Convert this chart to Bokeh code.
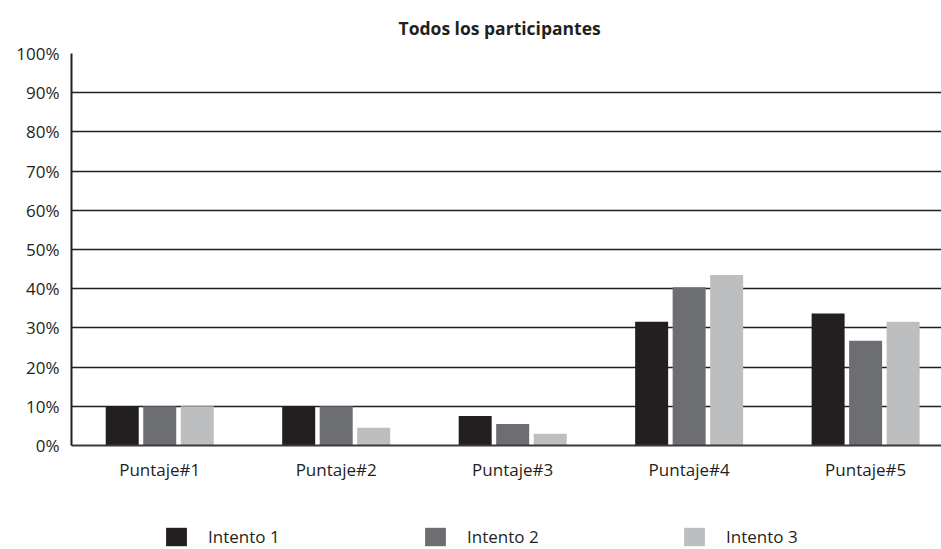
from bokeh.plotting import figure
from bokeh.layouts import column
from bokeh.models import Range1d, FixedTicker, Legend, LegendItem, ColumnDataSource, NumeralTickFormatter
from bokeh.transform import dodge
from bokeh.embed import file_html
from bokeh.resources import INLINE

categories = ["Puntaje#1", "Puntaje#2", "Puntaje#3", "Puntaje#4", "Puntaje#5"]
intento1 = [0.10, 0.10, 0.075, 0.316, 0.337]
intento2 = [0.10, 0.10, 0.055, 0.404, 0.267]
intento3 = [0.10, 0.045, 0.030, 0.435, 0.316]
series_names = ["Intento 1", "Intento 2", "Intento 3"]
colors = ["#231f20", "#6d6e71", "#bcbec0"]
y_ticks = [0, 0.1, 0.2, 0.3, 0.4, 0.5, 0.6, 0.7, 0.8, 0.9, 1.0]

FONT = "Open Sans"
DARK = "#231f20"

xs = list(range(len(categories)))
source = ColumnDataSource(dict(x=xs, i1=intento1, i2=intento2, i3=intento3))
offsets = [-0.2125, 0.0, 0.2125]
fields = ["i1", "i2", "i3"]

p = figure(width=941, height=500, x_range=Range1d(-0.5, 4.43), y_range=Range1d(0, 1),
           output_backend="svg", toolbar_location=None,
           min_border_left=71, min_border_right=0, min_border_top=53, min_border_bottom=55,
           title="Todos los participantes")
p.outline_line_color = None
p.background_fill_color = "white"
p.border_fill_color = "white"

p.title.align = "left"
p.title.offset = 327
p.title.text_font = FONT
p.title.text_font_size = "17.5px"
p.title.text_font_style = "bold"
p.title.text_color = DARK
p.title.standoff = 27

for off, fld, col in zip(offsets, fields, colors):
    p.vbar(x=dodge("x", off, range=p.x_range), top=fld, width=0.187, bottom=0,
           source=source, fill_color=col, line_color=None)

# axes
p.yaxis.ticker = FixedTicker(ticks=y_ticks)
p.yaxis.formatter = NumeralTickFormatter(format="0%")
p.yaxis.major_tick_line_color = None
p.yaxis.minor_tick_line_color = None
p.yaxis.major_tick_out = 0
p.yaxis.major_label_standoff = 12
p.yaxis.axis_line_color = DARK
p.yaxis.axis_line_width = 2
p.yaxis.major_label_text_font = FONT
p.yaxis.major_label_text_font_size = "17px"
p.yaxis.major_label_text_color = DARK

p.xaxis.ticker = FixedTicker(ticks=xs)
p.xaxis.major_label_overrides = {i: c for i, c in zip(xs, categories)}
p.xaxis.major_tick_line_color = None
p.xaxis.minor_tick_line_color = None
p.xaxis.major_tick_out = 0
p.xaxis.major_label_standoff = 12
p.xaxis.axis_line_color = "#3a3a3a"
p.xaxis.axis_line_width = 2
p.xaxis.major_label_text_font = FONT
p.xaxis.major_label_text_font_size = "17px"
p.xaxis.major_label_text_color = DARK

p.xgrid.grid_line_color = None
p.ygrid.grid_line_color = DARK
p.ygrid.grid_line_width = 1.5

# legend strip (hidden copies of the series provide the legend swatches)
pl = figure(width=941, height=48, x_range=Range1d(0, 1), y_range=Range1d(0, 1),
            output_backend="svg", toolbar_location=None,
            min_border_left=0, min_border_right=0, min_border_top=0, min_border_bottom=0,
            x_axis_type=None, y_axis_type=None)
pl.outline_line_color = None
pl.xgrid.visible = False
pl.ygrid.visible = False
leg_renderers = [pl.vbar(x=dodge("x", off), top=fld, width=0.1, source=source,
                         fill_color=c, line_color=None, visible=False)
                 for off, fld, c in zip(offsets, fields, colors)]
legend = Legend(items=[LegendItem(label=n, renderers=[r]) for n, r in zip(series_names, leg_renderers)],
                location=(92, 0), orientation="horizontal",
                glyph_width=26, glyph_height=23, label_height=23, label_standoff=19,
                label_width=100, spacing=114, padding=0, margin=0,
                border_line_alpha=0, background_fill_alpha=0,
                inactive_fill_alpha=0, click_policy="none",
                label_text_font=FONT, label_text_font_size="17px", label_text_color=DARK)
pl.add_layout(legend, "center")

layout = column(p, pl, spacing=0)
open("out.html", "w").write(file_html(layout, INLINE))
